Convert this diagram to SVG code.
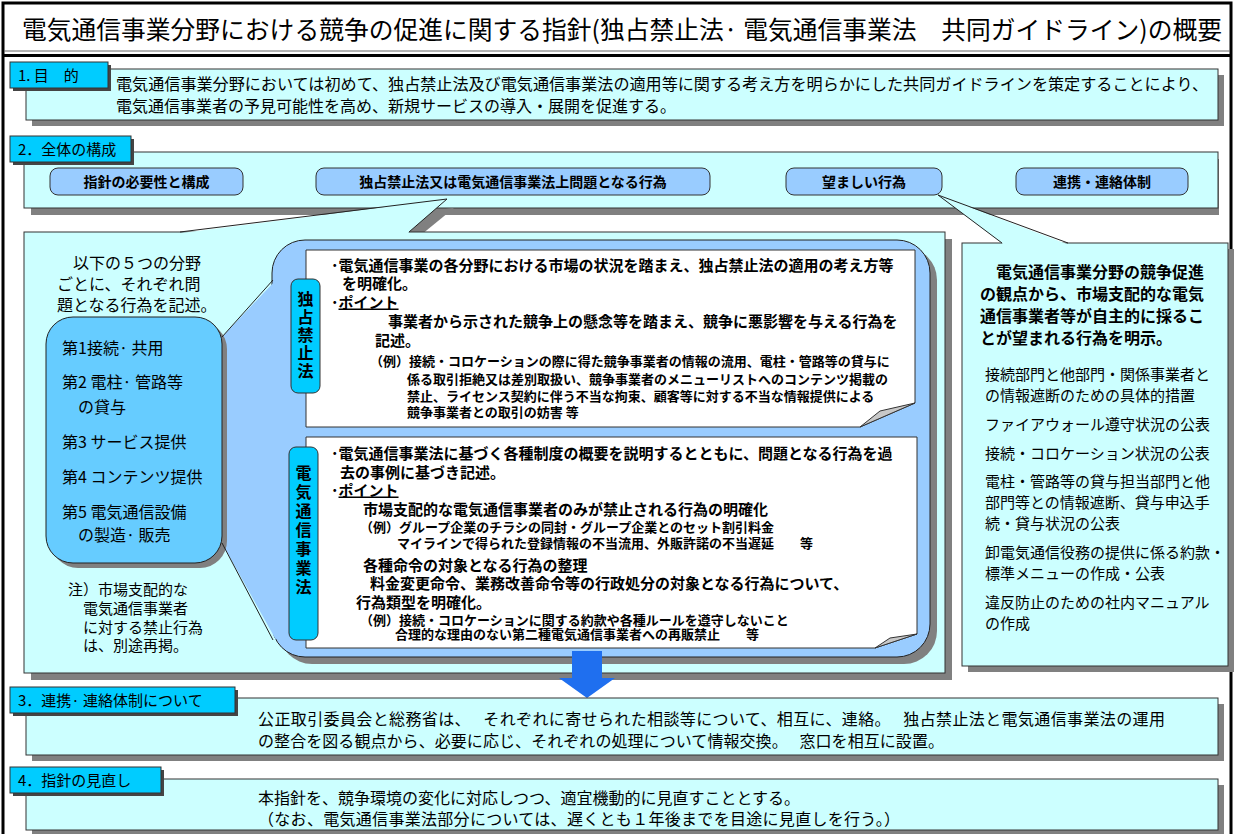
<svg xmlns="http://www.w3.org/2000/svg" width="1234" height="834" viewBox="0 0 1234 834">
<style>
.t{font-family:"Noto Sans CJK JP","Noto Sans",sans-serif;fill:#000}
.b{font-weight:700}
.sec{fill:#CCFFFF;stroke:#333;stroke-width:1}
.sh{fill:#808080}
.lab{fill:#00CCFF;stroke:#333;stroke-width:1}
.labsh{fill:#444}
.pill{fill:#99CCFF;stroke:#333;stroke-width:1}
.ln{stroke:#222;stroke-width:1;fill:none}
.note{fill:#FFFFFF;stroke:#333;stroke-width:1}
.flap{fill:#C8C8C8;stroke:#333;stroke-width:1}
.vp{fill:#00CCFF;stroke:#333;stroke-width:1}
.vt{writing-mode:vertical-rl}
</style>
<rect x="0" y="0" width="1234" height="834" fill="#FFFFFF"/>
<g id="frame">
<rect x="3" y="3" width="1228" height="840" fill="none" stroke="#000" stroke-width="3"/>
<line x1="4" y1="51" x2="1230" y2="51" stroke="#666" stroke-width="1"/>
<line x1="4" y1="55.5" x2="1230" y2="55.5" stroke="#000" stroke-width="3"/>
</g>
<g id="title">
<text class="t" x="22" y="39" font-size="25" textLength="1200" lengthAdjust="spacingAndGlyphs">電気通信事業分野における競争の促進に関する指針(独占禁止法· 電気通信事業法　共同ガイドライン)の概要</text>
</g>

<g id="sec1">
<rect class="sh" x="32" y="75" width="1192" height="51"/>
<rect class="sec" x="26" y="69" width="1192" height="51"/>
<rect class="labsh" x="13" y="65" width="98" height="26"/>
<rect class="lab" x="10" y="62" width="98" height="26"/>
<text class="t" x="18" y="81" font-size="15">1. 目　的</text>
<text class="t" x="116" y="90" font-size="16" textLength="1092" lengthAdjust="spacingAndGlyphs">電気通信事業分野においては初めて、独占禁止法及び電気通信事業法の適用等に関する考え方を明らかにした共同ガイドラインを策定することにより、</text>
<text class="t" x="116" y="112" font-size="16">電気通信事業者の予見可能性を高め、新規サービスの導入・展開を促進する。</text>
</g>

<g id="sec2">
<rect class="sh" x="31" y="159" width="1188" height="56"/>
<rect class="sec" x="24" y="152" width="1194" height="56"/>
<rect class="labsh" x="13" y="139" width="121" height="26"/>
<rect class="lab" x="10" y="136" width="121" height="26"/>
<text class="t" x="18" y="154.5" font-size="15">2．全体の構成</text>
</g>
<g id="pill-hitsuyo">
<rect class="pill" x="50" y="168" width="193" height="27" rx="8"/>
<text class="t b" x="146.5" y="186.5" font-size="14" text-anchor="middle">指針の必要性と構成</text>
</g>
<g id="pill-mondai">
<rect class="pill" x="316" y="168" width="394" height="27" rx="8"/>
<text class="t b" x="513" y="186.5" font-size="14" text-anchor="middle">独占禁止法又は電気通信事業法上問題となる行為</text>
</g>
<g id="pill-nozomashii">
<rect class="pill" x="786" y="168" width="156" height="27" rx="8"/>
<text class="t b" x="864" y="186.5" font-size="14" text-anchor="middle">望ましい行為</text>
</g>
<g id="pill-renkei">
<rect class="pill" x="1016" y="168" width="172" height="27" rx="8"/>
<text class="t b" x="1102" y="186.5" font-size="14" text-anchor="middle">連携・連絡体制</text>
</g>

<g id="left-container">
<rect class="sh" x="31" y="239" width="921" height="441"/>
<polygon class="sh" points="187,239 454,208 416,239"/>
<rect class="sec" x="24" y="232" width="921" height="441"/>
<polygon points="181,233 447,199 408,233" fill="#CCFFFF"/>
<text class="t" x="57" y="269" font-size="16">　以下の５つの分野</text>
<text class="t" x="57" y="290" font-size="16">ごとに、それぞれ問</text>
<text class="t" x="57" y="311" font-size="16">題となる行為を記述。</text>
<text class="t" x="68" y="595" font-size="15">注）市場支配的な</text>
<text class="t" x="83" y="614" font-size="15">電気通信事業者</text>
<text class="t" x="83" y="633" font-size="15">に対する禁止行為</text>
<text class="t" x="83" y="651" font-size="15">は、別途再掲。</text>
</g>

<g id="panel">
<rect class="sh" x="279" y="247" width="658" height="417" rx="33"/>
<rect x="272" y="240" width="658" height="417" rx="33" fill="#99CCFF" stroke="#222" stroke-width="1"/>
<polygon points="276,280 222,337 222,543 276,640" fill="#99CCFF"/>
</g>

<g id="five-fields">
<rect class="sh" x="51" y="322" width="176" height="246" rx="27"/>
<rect x="46" y="317" width="176" height="246" rx="27" fill="#66CCFF" stroke="#222" stroke-width="1"/>
<text class="t" x="62" y="354" font-size="16">第1接続·  共用</text>
<text class="t" x="62" y="388" font-size="16">第2 電柱·  管路等</text>
<text class="t" x="78" y="413" font-size="16">の貸与</text>
<text class="t" x="62" y="448" font-size="16">第3 サービス提供</text>
<text class="t" x="62" y="483" font-size="16">第4 コンテンツ提供</text>
<text class="t" x="62" y="518" font-size="16">第5 電気通信設備</text>
<text class="t" x="78" y="541" font-size="16">の製造·  販売</text>
</g>

<g id="note-dokkin">
<path class="note" d="M306,250 H915 V403 L860,427 H306 Z"/>
<path class="flap" d="M860,427 L915,403 L880,411 Z"/>
<text class="t b" x="331" y="270.5" font-size="15">･電気通信事業の各分野における市場の状況を踏まえ、独占禁止法の適用の考え方等</text>
<text class="t b" x="342" y="288.5" font-size="15">を明確化。</text>
<text class="t b" x="331" y="307.5" font-size="15">･<tspan text-decoration="underline">ポイント</tspan></text>
<text class="t b" x="388" y="326.5" font-size="15">事業者から示された競争上の懸念等を踏まえ、競争に悪影響を与える行為を</text>
<text class="t b" x="375" y="345.5" font-size="15">記述。</text>
<text class="t b" x="370" y="365.5" font-size="13">（例）接続・コロケーションの際に得た競争事業者の情報の流用、電柱・管路等の貸与に</text>
<text class="t b" x="407" y="383.5" font-size="13">係る取引拒絶又は差別取扱い、競争事業者のメニューリストへのコンテンツ掲載の</text>
<text class="t b" x="407" y="400.5" font-size="13">禁止、ライセンス契約に伴う不当な拘束、顧客等に対する不当な情報提供による</text>
<text class="t b" x="407" y="416.5" font-size="13">競争事業者との取引の妨害 等</text>
</g>
<g id="tag-dokkin">
<rect class="vp" x="291" y="279" width="29" height="114" rx="7"/>
<text class="t b vt" x="305.5" y="336" font-size="16" letter-spacing="2" text-anchor="middle">独占禁止法</text>
</g>

<g id="note-denki">
<path class="note" d="M306,437 H917 V634 L875,648 H306 Z"/>
<path class="flap" d="M875,648 L917,634 L890,638 Z"/>
<text class="t b" x="331" y="458.5" font-size="15">･電気通信事業法に基づく各種制度の概要を説明するとともに、問題となる行為を過</text>
<text class="t b" x="340" y="477.5" font-size="15">去の事例に基づき記述。</text>
<text class="t b" x="331" y="495.5" font-size="15">･<tspan text-decoration="underline">ポイント</tspan></text>
<text class="t b" x="363" y="514.5" font-size="15">市場支配的な電気通信事業者のみが禁止される行為の明確化</text>
<text class="t b" x="360" y="531.5" font-size="13">（例）グループ企業のチラシの同封・グループ企業とのセット割引料金</text>
<text class="t b" x="397" y="547.5" font-size="13">マイラインで得られた登録情報の不当流用、外販許諾の不当遅延　　等</text>
<text class="t b" x="363" y="570.5" font-size="15">各種命令の対象となる行為の整理</text>
<text class="t b" x="370" y="588.5" font-size="15">料金変更命令、業務改善命令等の行政処分の対象となる行為について、</text>
<text class="t b" x="356" y="607.5" font-size="15">行為類型を明確化。</text>
<text class="t b" x="360" y="624.5" font-size="13">（例）接続・コロケーションに関する約款や各種ルールを遵守しないこと</text>
<text class="t b" x="395" y="638.5" font-size="13">合理的な理由のない第二種電気通信事業者への再販禁止　　等</text>
</g>
<g id="tag-denki">
<rect class="vp" x="289" y="447" width="29" height="193" rx="7"/>
<text class="t b vt" x="303.5" y="531" font-size="16" letter-spacing="3" text-anchor="middle">電気通信事業法</text>
</g>

<g id="right-container">
<rect class="sh" x="968" y="249" width="266" height="423"/>
<rect class="sec" x="962" y="243" width="266" height="423"/>
<polygon points="1003,244 938,195 1067,244" fill="#CCFFFF"/>
<text class="t b" x="980" y="278" font-size="16">　電気通信事業分野の競争促進</text>
<text class="t b" x="980" y="300" font-size="16">の観点から、市場支配的な電気</text>
<text class="t b" x="980" y="322" font-size="16">通信事業者等が自主的に採るこ</text>
<text class="t b" x="980" y="344" font-size="16">とが望まれる行為を明示。</text>
<text class="t" x="985" y="380" font-size="15">接続部門と他部門・関係事業者と</text>
<text class="t" x="985" y="401" font-size="15">の情報遮断のための具体的措置</text>
<text class="t" x="985" y="430" font-size="15">ファイアウォール遵守状況の公表</text>
<text class="t" x="985" y="459" font-size="15">接続・コロケーション状況の公表</text>
<text class="t" x="985" y="487" font-size="15">電柱・管路等の貸与担当部門と他</text>
<text class="t" x="985" y="508" font-size="15">部門等との情報遮断、貸与申込手</text>
<text class="t" x="985" y="529" font-size="15">続・貸与状況の公表</text>
<text class="t" x="985" y="558" font-size="15">卸電気通信役務の提供に係る約款・</text>
<text class="t" x="985" y="579" font-size="15">標準メニューの作成・公表</text>
<text class="t" x="985" y="608" font-size="15">違反防止のための社内マニュアル</text>
<text class="t" x="985" y="629" font-size="15">の作成</text>
</g>

<g id="connectors">
<polyline class="ln" points="180,232 447,199 409,232"/>
<polyline class="ln" points="1002,243 938,195 1068,243"/>
<line class="ln" x1="273" y1="280" x2="222" y2="337"/>
<line class="ln" x1="222" y1="543" x2="273" y2="640"/>
<polygon points="572,651 602,651 602,678 615,678 587,698 559,678 572,678" fill="#1F6FEF"/>
</g>

<g id="sec3">
<rect class="sh" x="32" y="704" width="1192" height="57"/>
<rect class="sec" x="26" y="698" width="1192" height="57"/>
<rect class="labsh" x="13" y="690" width="225" height="26"/>
<rect class="lab" x="10" y="687" width="225" height="26"/>
<text class="t" x="18" y="706" font-size="15">3．連携·  連絡体制について</text>
<text class="t" x="258" y="725" font-size="16" textLength="907" lengthAdjust="spacing">公正取引委員会と総務省は、　 それぞれに寄せられた相談等について、相互に、連絡。　 独占禁止法と電気通信事業法の運用</text>
<text class="t" x="258" y="747" font-size="16" textLength="686" lengthAdjust="spacing">の整合を図る観点から、必要に応じ、それぞれの処理について情報交換。　 窓口を相互に設置。</text>
</g>

<g id="sec4">
<rect class="sh" x="32" y="785" width="1192" height="51"/>
<rect class="sec" x="26" y="779" width="1192" height="51"/>
<rect class="labsh" x="13" y="770" width="151" height="26"/>
<rect class="lab" x="10" y="767" width="151" height="26"/>
<text class="t" x="18" y="786" font-size="15">4．指針の見直し</text>
<text class="t" x="258" y="804" font-size="16">本指針を、競争環境の変化に対応しつつ、適宜機動的に見直すこととする。</text>
<text class="t" x="258" y="825" font-size="16" textLength="642" lengthAdjust="spacing">（なお、電気通信事業法部分については、遅くとも１年後までを目途に見直しを行う。）</text>
</g>
</svg>
